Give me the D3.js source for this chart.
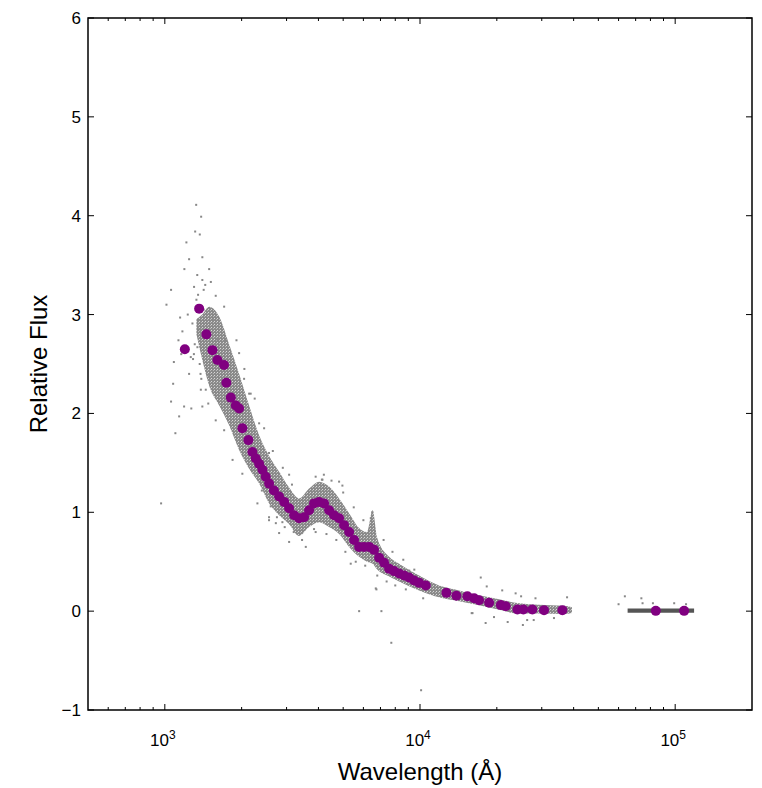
<!DOCTYPE html>
<html>
<head>
<meta charset="utf-8">
<script src="https://cdn.jsdelivr.net/npm/d3@7"></script>
<style>
  body { margin: 0; background: #fff; }
  svg text { font-family: "Liberation Sans", Arial, Helvetica, sans-serif; fill: #000; }
</style>
</head>
<body>
<svg id="chart" width="762" height="788"></svg>
<script>
// binned spectrum (purple markers)
const binWl = [1198, 1363, 1455, 1537, 1607, 1706, 1742, 1814, 1897, 1955, 2014, 2126, 2204, 2272, 2342,
  2413, 2486, 2563, 2677, 2805, 2936, 3070, 3211, 3359, 3514, 3676, 3844, 4023, 4208, 4404, 4604,
  4819, 5040, 5275, 5517, 5773, 6038, 6317, 6607, 6914, 7232, 7567, 7914, 8281, 8661, 9060, 9480,
  9920, 10537, 12690, 13887, 15335, 16293, 17042, 18654, 20736, 21680, 24085, 25410, 27565, 30620,
  36140, 83950, 108400];
const binFlux = [2.65, 3.06, 2.80, 2.64, 2.54, 2.49, 2.31, 2.16, 2.08, 2.05, 1.85, 1.73, 1.61, 1.545, 1.49,
  1.43, 1.36, 1.29, 1.22, 1.16, 1.105, 1.04, 0.97, 0.94, 0.95, 1.02, 1.09, 1.105, 1.09, 1.02, 0.97,
  0.94, 0.87, 0.80, 0.72, 0.65, 0.65, 0.65, 0.62, 0.54, 0.49, 0.43, 0.405, 0.38, 0.36, 0.34, 0.31,
  0.286, 0.26, 0.185, 0.155, 0.15, 0.13, 0.11, 0.084, 0.061, 0.05, 0.017, 0.017, 0.017, 0.01,
  0.01, 0.003, 0.003];

// dense cloud of individual spectra: lower / upper envelope
const cloudWl = [1330, 1400, 1492, 1633, 1786, 1955, 2140, 2342, 2563, 2805, 3070, 3359, 3676, 4023, 4404,
  4819, 5275, 5773, 6200, 6520, 6800, 7567, 8281, 9920, 11880, 14230, 17040, 20420, 24450, 29290,
  36710, 39400];
const cloudLo = [2.80, 2.55, 2.28, 2.08, 1.88, 1.63, 1.44, 1.29, 1.09, 0.97, 0.88, 0.76, 0.85, 0.90, 0.85,
  0.78, 0.65, 0.55, 0.50, 0.48, 0.42, 0.35, 0.30, 0.21, 0.14, 0.10, 0.06, 0.015, -0.025, -0.025,
  -0.03, -0.02];
const cloudHi = [2.95, 3.00, 3.08, 2.98, 2.70, 2.40, 2.08, 1.78, 1.57, 1.41, 1.25, 1.14, 1.24, 1.31, 1.26,
  1.14, 0.99, 0.84, 0.80, 1.02, 0.74, 0.55, 0.48, 0.36, 0.26, 0.21, 0.16, 0.12, 0.08, 0.065,
  0.055, 0.04];
// far-infrared photometry strip
const irWl = [65100, 118600];
const irLo = [-0.017, -0.017];
const irHi = [0.027, 0.027];

// scattered individual points outside the dense cloud
const scatterWl = [1327, 1388, 1315, 1371, 1215, 1245, 1193, 1058, 1015, 1148, 1131, 1085, 1245, 1078,
  1058, 1138, 1190, 1384, 1492, 1302, 1403, 1492, 1515, 1583, 1708, 1403, 1283, 1172, 1342, 1264,
  1909, 1955, 2045, 2140, 1735, 967, 1403, 1447, 1583, 1708, 1843, 2013, 2306, 2561, 2889, 2170,
  2342, 2561, 2805, 3070, 2805, 3070, 3568, 2723, 2561, 4147, 4819, 4965, 5352, 6413, 5352, 6709,
  4125, 3844, 6750, 5774, 7060, 10290, 9073, 7720, 10100, 17300, 18260, 16060, 18080, 21000, 23700,
  25300, 26300, 37700, 15940, 24900, 28350, 22060, 27900, 19500, 33500, 63500, 60000, 73700, 74500,
  81800, 99100, 110300, 1100, 1160, 1230, 1270, 1350, 1420, 1480, 1540, 1600, 1660,
  2200, 2400, 2600, 2750, 2950, 3200, 3450, 3900, 4300, 4700, 5100, 5600, 6100, 6800, 7400, 8000, 8800,
  2050, 2250, 2450, 2650, 2900, 3150, 3900, 4200, 4500, 5000, 5500, 6000, 6500, 7200, 7800, 8600, 9500,
  1330, 1360, 1380, 1300, 1350, 1420, 1290, 1310, 1340, 1370, 1390, 1440];
const scatterFlux = [4.11, 3.99, 3.84, 3.81, 3.73, 3.56, 3.46, 3.25, 3.10, 2.97, 2.74, 2.52, 2.40, 2.30,
  2.12, 1.97, 2.07, 2.24, 2.39, 3.28, 3.35, 3.46, 3.33, 3.19, 3.08, 3.58, 2.91, 2.83, 2.67, 2.57,
  2.74, 2.61, 2.35, 2.20, 2.74, 1.09, 2.07, 2.24, 1.93, 1.83, 1.53, 1.39, 1.09, 0.95, 0.90, 2.20,
  1.90, 1.60, 1.39, 1.38, 0.79, 0.70, 0.65, 0.89, 0.92, 1.33, 1.31, 1.27, 0.94, 0.94, 0.48, 0.23,
  1.33, 0.83, 0.22, 0.00, 0.00, 0.13, 0.41, -0.32, -0.80, 0.34, 0.25, -0.02, -0.12, 0.21, 0.18,
  -0.14, -0.09, 0.14, -0.02, 0.15, 0.13, -0.11, -0.09, -0.06, -0.07, 0.15, 0.07, 0.13, 0.08,
  0.08, 0.08, 0.07, 1.80, 2.60, 3.00, 2.05, 2.95, 3.05, 2.10, 2.95, 2.75, 2.30,
  1.42, 1.22, 1.06, 0.95, 0.85, 0.80, 0.72, 0.80, 0.78, 0.72, 0.60, 0.50, 0.46, 0.36, 0.30, 0.26, 0.22,
  2.45, 2.15, 1.85, 1.62, 1.45, 1.28, 1.36, 1.38, 1.32, 1.20, 1.05, 0.92, 1.00, 0.72, 0.60, 0.52, 0.42,
  3.15, 2.85, 2.40, 2.60, 3.20, 3.25, 2.55, 2.70, 3.40, 2.50, 2.35, 3.30];

const yTicks = [-1, 0, 1, 2, 3, 4, 5, 6];
const xMajor = [1e3, 1e4, 1e5];
const xMinor = [600, 700, 800, 900, 2e3, 3e3, 4e3, 5e3, 6e3, 7e3, 8e3, 9e3,
  2e4, 3e4, 4e4, 5e4, 6e4, 7e4, 8e4, 9e4];

const margin = {top: 18, right: 10, bottom: 78, left: 88};
const width = 762 - margin.left - margin.right;
const height = 788 - margin.top - margin.bottom;

const svg = d3.select("#chart");

// speckle texture for the dense cloud
const pat = svg.append("defs").append("pattern")
  .attr("id", "speckle")
  .attr("patternUnits", "userSpaceOnUse")
  .attr("width", 3)
  .attr("height", 3);
pat.append("rect").attr("width", 3).attr("height", 3).attr("fill", "#8a8a8a");
pat.append("rect").attr("x", 0).attr("y", 0).attr("width", 1).attr("height", 1).attr("fill", "#d8d8d8");
pat.append("rect").attr("x", 2).attr("y", 1).attr("width", 1).attr("height", 1).attr("fill", "#b8b8b8");

const g = svg.append("g").attr("transform", `translate(${margin.left},${margin.top})`);

const x = d3.scaleLog().domain([500, 2e5]).range([0, width]);
const y = d3.scaleLinear().domain([-1, 6]).range([height, 0]);

const band = (wl, lo, hi) => d3.area()
  .x((d, i) => x(wl[i]))
  .y0((d, i) => y(lo[i]))
  .y1((d, i) => y(hi[i]))
  .curve(d3.curveMonotoneX)(wl);

g.append("path")
  .attr("d", band(cloudWl, cloudLo, cloudHi))
  .attr("fill", "url(#speckle)");

g.append("path")
  .attr("d", band(irWl, irLo, irHi))
  .attr("fill", "#555");

g.selectAll("rect.scatter")
  .data(scatterWl)
  .enter().append("rect")
  .attr("class", "scatter")
  .attr("x", (d) => x(d) - 1)
  .attr("y", (d, i) => y(scatterFlux[i]) - 1)
  .attr("width", 2)
  .attr("height", 2)
  .attr("fill", "#888");

g.selectAll("circle.bin")
  .data(binWl)
  .enter().append("circle")
  .attr("class", "bin")
  .attr("cx", (d) => x(d))
  .attr("cy", (d, i) => y(binFlux[i]))
  .attr("r", 5)
  .attr("fill", "#800080");

// frame
g.append("rect")
  .attr("width", width)
  .attr("height", height)
  .attr("fill", "none")
  .attr("stroke", "#000")
  .attr("stroke-width", 1.5);

// inward ticks
const tickG = g.append("g").attr("stroke", "#000").attr("stroke-width", 1);
yTicks.forEach(v => {
  tickG.append("line").attr("x1", 0).attr("x2", 6).attr("y1", y(v)).attr("y2", y(v));
  tickG.append("line").attr("x1", width).attr("x2", width - 6).attr("y1", y(v)).attr("y2", y(v));
});
xMajor.forEach(v => {
  tickG.append("line").attr("x1", x(v)).attr("x2", x(v)).attr("y1", height).attr("y2", height - 6);
  tickG.append("line").attr("x1", x(v)).attr("x2", x(v)).attr("y1", 0).attr("y2", 6);
});
xMinor.forEach(v => {
  tickG.append("line").attr("x1", x(v)).attr("x2", x(v)).attr("y1", height).attr("y2", height - 3);
  tickG.append("line").attr("x1", x(v)).attr("x2", x(v)).attr("y1", 0).attr("y2", 3);
});

// tick labels
g.selectAll("text.ylab")
  .data(yTicks)
  .enter().append("text")
  .attr("class", "ylab")
  .attr("x", -7)
  .attr("y", (d) => y(d))
  .attr("dy", "0.35em")
  .attr("text-anchor", "end")
  .style("font-size", "17px")
  .text((d) => d < 0 ? "\u2212" + Math.abs(d) : d);

xMajor.forEach(v => {
  const t = g.append("text")
    .attr("x", x(v) - 2)
    .attr("y", height + 36)
    .attr("text-anchor", "middle")
    .style("font-size", "17px");
  t.append("tspan").text("10");
  t.append("tspan").attr("dy", -7).style("font-size", "12px").text(Math.log10(v));
});

// axis titles
svg.append("text")
  .attr("x", margin.left + width / 2)
  .attr("y", 780)
  .attr("text-anchor", "middle")
  .style("font-size", "24px")
  .text("Wavelength (\u00c5)");

svg.append("text")
  .attr("transform", `translate(47,${margin.top + height / 2}) rotate(-90)`)
  .attr("text-anchor", "middle")
  .style("font-size", "24px")
  .text("Relative Flux");
</script>
</body>
</html>
